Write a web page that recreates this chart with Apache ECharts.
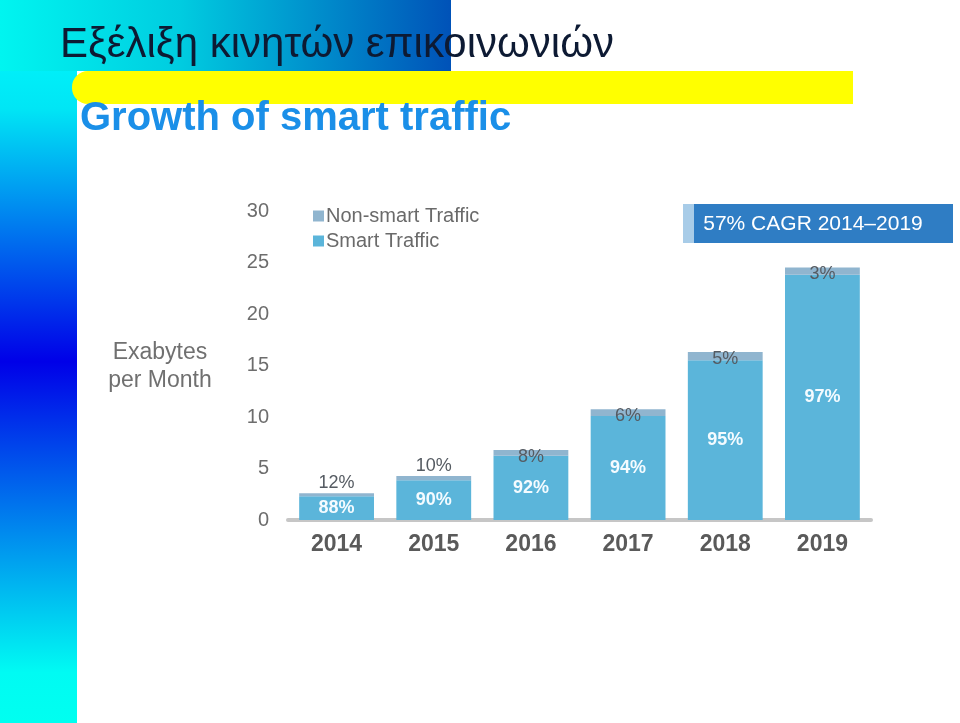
<!DOCTYPE html>
<html>
<head>
<meta charset="utf-8">
<script src="https://cdn.jsdelivr.net/npm/echarts@6/dist/echarts.min.js"></script>
<style>
html,body{margin:0;padding:0;background:#fff;}
#chart{width:960px;height:723px;}
</style>
</head>
<body>
<div id="chart"></div>
<script>
var years = ['2014', '2015', '2016', '2017', '2018', '2019'];
var smartTraffic = [2.3, 3.85, 6.25, 10.1, 15.5, 23.8];
var nonSmartTraffic = [0.3, 0.43, 0.55, 0.65, 0.8, 0.72];
var smartLabels = ['88%', '90%', '92%', '94%', '95%', '97%'];
var nonSmartLabels = ['12%', '10%', '8%', '6%', '5%', '3%'];
var yTicks = [0, 5, 10, 15, 20, 25, 30];

var chart = echarts.init(document.getElementById('chart'));

var nonSmartData = nonSmartTraffic.map(function (v, i) {
  var above = i < 2;
  return {
    value: v,
    label: {
      show: true,
      formatter: nonSmartLabels[i],
      position: above ? 'top' : 'insideTop',
      distance: above ? 1 : -2
    }
  };
});

var option = {
  animation: false,
  backgroundColor: '#ffffff',
  graphic: [
    {
      type: 'rect', z: -10, silent: true,
      shape: {x: 0, y: 0, width: 77, height: 723},
      style: {fill: new echarts.graphic.LinearGradient(0, 0, 0, 1, [
        {offset: 0, color: '#00ffff'},
        {offset: 0.15, color: '#00e6f5'},
        {offset: 0.5, color: '#0000e8'},
        {offset: 0.93, color: '#00fbf3'},
        {offset: 1, color: '#00fff0'}
      ])}
    },
    {
      type: 'rect', z: -9, silent: true,
      shape: {x: 0, y: 0, width: 451, height: 71},
      style: {fill: new echarts.graphic.LinearGradient(0, 0, 1, 0, [
        {offset: 0, color: '#00f5f0'},
        {offset: 0.4, color: '#00cce0'},
        {offset: 1, color: '#0052b8'}
      ])}
    },
    {
      type: 'rect', z: -8, silent: true,
      shape: {x: 72, y: 71, width: 781, height: 33, r: [16, 0, 0, 16]},
      style: {fill: '#ffff00'}
    },
    {
      type: 'text', z: 5, silent: true,
      left: 60, top: 24,
      style: {text: 'Εξέλιξη κινητών επικοινωνιών', fontFamily: 'Liberation Sans, Arial, sans-serif', fontSize: 42, fill: '#0d1a33'}
    },
    {
      type: 'text', z: 5, silent: true,
      left: 80, top: 99,
      style: {text: 'Growth of smart traffic', fontFamily: 'Liberation Sans, Arial, sans-serif', fontSize: 40, fontWeight: 'bold', fill: '#1a8fe8'}
    },
    {
      type: 'text', z: 5, silent: true,
      x: 160, y: 367,
      style: {text: 'Exabytes\nper Month', fontFamily: 'Liberation Sans, Arial, sans-serif', fontSize: 23, lineHeight: 28, fill: '#707070', align: 'center', verticalAlign: 'middle'}
    },
    {
      type: 'rect', z: 5, silent: true,
      shape: {x: 683, y: 204, width: 12, height: 39},
      style: {fill: '#a8cce8'}
    },
    {
      type: 'rect', z: 5, silent: true,
      shape: {x: 694, y: 204, width: 259, height: 39},
      style: {fill: '#2f7dc4'}
    },
    {
      type: 'text', z: 6, silent: true,
      x: 813, y: 224,
      style: {text: '57% CAGR 2014–2019', fontFamily: 'Liberation Sans, Arial, sans-serif', fontSize: 21, fill: '#ffffff', align: 'center', verticalAlign: 'middle'}
    }
  ],
  legend: {
    orient: 'vertical',
    left: 308,
    top: 201,
    itemWidth: 11,
    itemHeight: 11,
    itemGap: 5,
    icon: 'rect',
    data: ['Non-smart Traffic', 'Smart Traffic'],
    textStyle: {fontFamily: 'Liberation Sans, Arial, sans-serif', fontSize: 20, color: '#6a6a6a', padding: [0, 0, 0, -3]}
  },
  grid: {left: 288, right: 89, top: 211, bottom: 203, containLabel: false},
  xAxis: {
    type: 'category',
    data: years,
    axisLine: {show: true, lineStyle: {color: '#c6c6c6', width: 4}},
    axisTick: {show: false},
    axisLabel: {fontFamily: 'Liberation Sans, Arial, sans-serif', fontSize: 23, fontWeight: 'bold', color: '#5a5a5a', margin: 13}
  },
  yAxis: {
    type: 'value',
    min: yTicks[0],
    max: yTicks[yTicks.length - 1],
    interval: yTicks[1] - yTicks[0],
    splitLine: {show: false},
    axisLine: {show: false},
    axisTick: {show: false},
    axisLabel: {fontFamily: 'Liberation Sans, Arial, sans-serif', fontSize: 20, color: '#6d6d6d', margin: 19}
  },
  series: [
    {
      name: 'Smart Traffic',
      type: 'bar',
      stack: 'total',
      barCategoryGap: '23%',
      data: smartTraffic,
      itemStyle: {color: '#5bb5da'},
      label: {
        show: true,
        position: 'inside',
        formatter: function (p) { return smartLabels[p.dataIndex]; },
        fontFamily: 'Liberation Sans, Arial, sans-serif',
        fontSize: 18,
        fontWeight: 'bold',
        color: '#f4fbff'
      }
    },
    {
      name: 'Non-smart Traffic',
      type: 'bar',
      stack: 'total',
      barCategoryGap: '23%',
      data: nonSmartData,
      itemStyle: {color: '#90b5cf'},
      label: {
        show: true,
        fontFamily: 'Liberation Sans, Arial, sans-serif',
        fontSize: 18,
        color: '#555b62'
      }
    }
  ]
};
chart.setOption(option);
</script>
</body>
</html>
